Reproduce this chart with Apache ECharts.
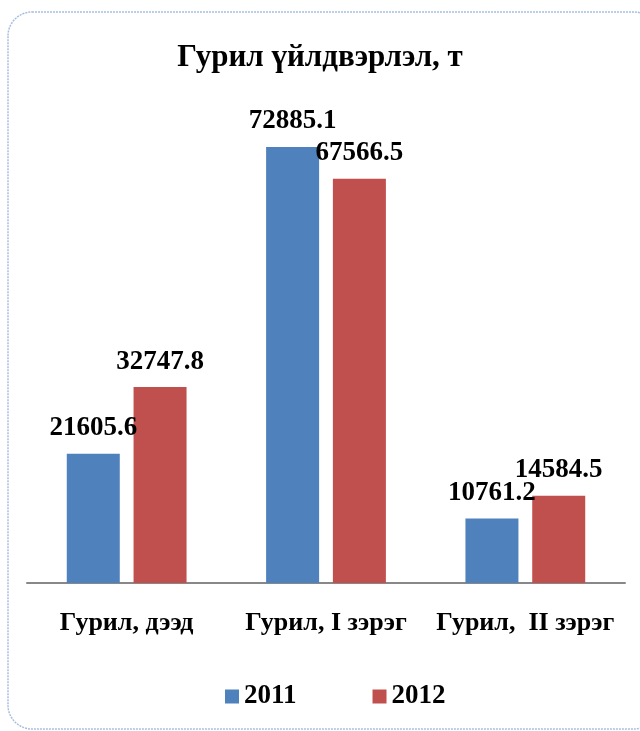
<!DOCTYPE html>
<html><head><meta charset="utf-8">
<script src="https://cdn.jsdelivr.net/npm/echarts@6/dist/echarts.min.js"></script>
<style>html,body{margin:0;padding:0;background:#fff}#c{width:640px;height:731px}</style>
</head><body><div id="c"></div>
<script>
const categories = ['Гурил, дээд', 'Гурил, I зэрэг', 'Гурил,  II зэрэг'];
const seriesNames = ['2011', '2012'];
const values2011 = [21605.6, 72885.1, 10761.2];
const values2012 = [32747.8, 67566.5, 14584.5];
const titleText = 'Гурил үйлдвэрлэл, т';

const serif = '"Liberation Serif", "Times New Roman", serif';
const chart = echarts.init(document.getElementById('c'));
const labelStyle = {show: true, position: 'top', distance: 12, fontFamily: serif, fontWeight: 'bold', fontSize: 27, color: '#000',
  formatter: p => p.value.toFixed(1)};
chart.setOption({
  animation: false,
  backgroundColor: '#fff',
  graphic: [{type: 'rect', shape: {x: 8, y: 12, width: 650, height: 717, r: 24}, z: -1,
    style: {fill: 'none', stroke: '#A9BEDF', lineWidth: 1.5, lineDash: [2, 1]}}],
  title: {text: titleText, left: 'center', top: 37,
    textStyle: {fontFamily: serif, fontWeight: 'bold', fontSize: 31, color: '#000'}},
  legend: {top: 678, left: 220, itemWidth: 14, itemHeight: 14, itemGap: 76, icon: 'rect',
    textStyle: {fontFamily: serif, fontWeight: 'bold', fontSize: 27, color: '#000'},
    data: seriesNames},
  grid: {left: 27, right: 15, top: 104.4, bottom: 148},
  xAxis: {type: 'category', data: categories,
    axisLine: {lineStyle: {color: '#888', width: 2}}, axisTick: {show: false},
    axisLabel: {fontFamily: serif, fontWeight: 'bold', fontSize: 26, color: '#000', margin: 27, interval: 0}},
  yAxis: {type: 'value', min: 0, max: 80000, show: false, splitLine: {show: false}},
  series: [
    {name: seriesNames[0], type: 'bar', data: values2011, barWidth: 53, barGap: '26%',
     itemStyle: {color: '#4F81BD'}, label: labelStyle},
    {name: seriesNames[1], type: 'bar', data: values2012, barWidth: 53,
     itemStyle: {color: '#C0504D'}, label: labelStyle}
  ]
});
</script></body></html>
